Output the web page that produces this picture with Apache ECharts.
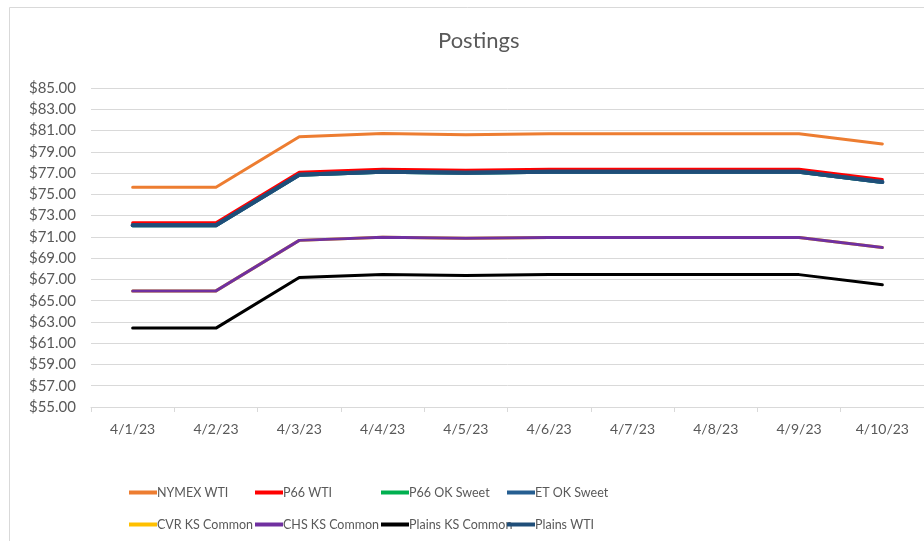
<!DOCTYPE html>
<html>
<head>
<meta charset="utf-8">
<script src="https://cdn.jsdelivr.net/npm/echarts@6/dist/echarts.min.js"></script>
<style>
  html, body { margin: 0; padding: 0; background: #fff; }
  #chart { width: 924px; height: 541px; }
</style>
</head>
<body>
<div id="chart"></div>
<script>
(function () {
  var myChart = echarts.init(document.getElementById("chart"));

  const dates = ["4/1/23", "4/2/23", "4/3/23", "4/4/23", "4/5/23", "4/6/23", "4/7/23", "4/8/23", "4/9/23", "4/10/23"];

  const nymexWti = [75.67, 75.67, 80.42, 80.71, 80.61, 80.7, 80.7, 80.7, 80.7, 79.74];
  const p66Wti = [72.32, 72.32, 77.07, 77.36, 77.26, 77.35, 77.35, 77.35, 77.35, 76.39];
  const p66OkSweet = [72.04, 72.04, 76.79, 77.08, 76.98, 77.07, 77.07, 77.07, 77.07, 76.11];
  const etOkSweet = [72.09, 72.09, 76.84, 77.13, 77.03, 77.12, 77.12, 77.12, 77.12, 76.16];
  const cvrKsCommon = [65.92, 65.92, 70.67, 70.96, 70.86, 70.95, 70.95, 70.95, 70.95, 69.99];
  const chsKsCommon = [65.92, 65.92, 70.67, 70.96, 70.86, 70.95, 70.95, 70.95, 70.95, 69.99];
  const plainsKsCommon = [62.42, 62.42, 67.17, 67.46, 67.36, 67.45, 67.45, 67.45, 67.45, 66.49];
  const plainsWti = [72.09, 72.09, 76.84, 77.13, 77.03, 77.12, 77.12, 77.12, 77.12, 76.16];

  const seriesList = [
    { name: "NYMEX WTI", data: nymexWti, color: "#ED7D31", width: 3 },
    { name: "P66 WTI", data: p66Wti, color: "#FF0000", width: 3 },
    { name: "P66 OK Sweet", data: p66OkSweet, color: "#00B050", width: 3 },
    { name: "ET OK Sweet", data: etOkSweet, color: "#255E91", width: 4 },
    { name: "CVR KS Common", data: cvrKsCommon, color: "#FFC000", width: 3 },
    { name: "CHS KS Common", data: chsKsCommon, color: "#7030A0", width: 3 },
    { name: "Plains KS Common", data: plainsKsCommon, color: "#000000", width: 3 },
    { name: "Plains WTI", data: plainsWti, color: "#1F4E79", width: 4 },
  ];

  const font = "Lato";
  const grey = "#595959";

  // legend laid out as a 4 x 2 table, one legend per cell
  const legends = seriesList.map((s, i) => ({
    left: 124 + (i % 4) * 126,
    top: 481 + Math.floor(i / 4) * 32,
    icon: "rect",
    itemWidth: 28,
    itemHeight: 4,
    itemGap: 0,
    textStyle: {
      fontFamily: font,
      fontSize: 12.5,
      color: grey,
      padding: [0, 0, 0, -5],
    },
    data: [s.name],
  }));

  option = {
    backgroundColor: "#ffffff",
    animation: false,
    title: {
      text: "Postings",
      left: 433,
      top: 25,
      textStyle: {
        fontFamily: font,
        fontSize: 22,
        fontWeight: "normal",
        color: grey,
      },
    },
    graphic: [
      {
        type: "rect",
        shape: { x: 9.5, y: 7.5, width: 1000, height: 1000 },
        style: { fill: "none", stroke: "#d9d9d9", lineWidth: 1 },
        silent: true,
      },
    ],
    legend: legends,
    grid: {
      left: 91,
      right: 0,
      top: 88,
      bottom: 134,
    },
    xAxis: {
      type: "category",
      data: dates,
      boundaryGap: true,
      axisLine: { lineStyle: { color: "#d9d9d9", width: 1 } },
      axisTick: { show: true, length: 5, lineStyle: { color: "#d9d9d9" } },
      axisLabel: {
        margin: 15,
        fontFamily: font,
        fontSize: 14,
        color: grey,
      },
    },
    yAxis: {
      type: "value",
      min: 55,
      max: 85,
      interval: 2,
      axisLine: { show: false },
      axisTick: { show: false },
      splitLine: { lineStyle: { color: "#d9d9d9", width: 1 } },
      axisLabel: {
        margin: 15,
        fontFamily: font,
        fontSize: 15,
        color: grey,
        formatter: (v) => "$" + v.toFixed(2),
      },
    },
    series: seriesList.map((s) => ({
      name: s.name,
      type: "line",
      data: s.data,
      showSymbol: false,
      symbol: "none",
      color: s.color,
      lineStyle: { color: s.color, width: s.width, join: "round", cap: "round" },
    })),
  };

  myChart.setOption(option, true);

  window.onresize = function () {
    myChart.resize();
  };
})();
</script>
</body>
</html>
